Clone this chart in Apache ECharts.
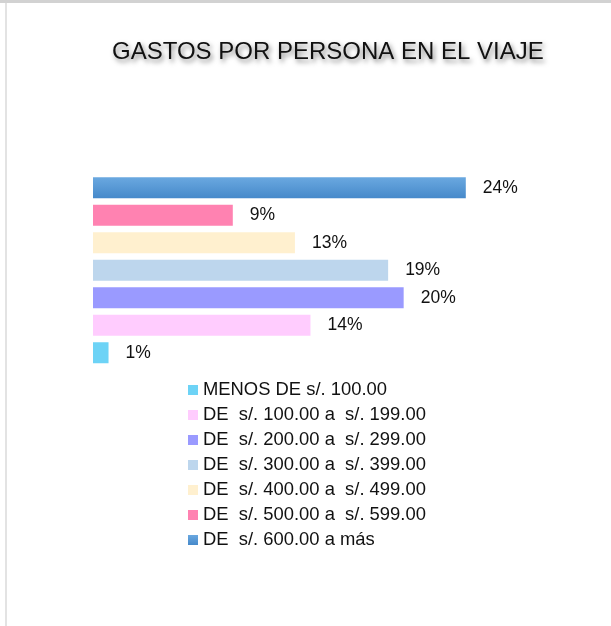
<!DOCTYPE html>
<html>
<head>
<meta charset="utf-8">
<script src="https://cdn.jsdelivr.net/npm/echarts@6/dist/echarts.min.js"></script>
<style>
	html, body { margin: 0; padding: 0; background: #fff; }
	#wrap { position: relative; width: 611px; height: 626px; overflow: hidden; }
	#topbar { position: absolute; left: 0; top: 0; width: 611px; height: 3px; background: #d2d2d2; }
	#leftline { position: absolute; left: 5px; top: 3px; width: 2px; height: 623px; background: #e3e3e3; }
	#main { position: absolute; left: 0; top: 0; width: 611px; height: 626px; }
</style>
</head>
<body>
<div id="wrap">
	<div id="main"></div>
	<div id="topbar"></div>
	<div id="leftline"></div>
</div>
<script>
//categorias (de abajo hacia arriba)
var categorias = [
	'MENOS DE s/. 100.00',
	'DE  s/. 100.00 a  s/. 199.00',
	'DE  s/. 200.00 a  s/. 299.00',
	'DE  s/. 300.00 a  s/. 399.00',
	'DE  s/. 400.00 a  s/. 499.00',
	'DE  s/. 500.00 a  s/. 599.00',
	'DE  s/. 600.00 a más'
];
var porcentajes = [1, 14, 20, 19, 13, 9, 24];
var colores = ['#6dd3f6', '#ffccfe', '#9a9aff', '#bdd6ed', '#fff0cf', '#ff82b1', '#5596d6'];

var fuente = 'Liberation Sans, Arial, sans-serif';

function init(){
	var chartDom = document.getElementById('main');
	var myChart = echarts.init(chartDom);

	var series = [];
	for(var i = 0; i < categorias.length; i++){
		var data = [];
		for(var j = 0; j < categorias.length; j++){
			data.push(j == i ? porcentajes[i] : '-');
		}
		var color = colores[i];
		if(i == categorias.length - 1){
			color = new echarts.graphic.LinearGradient(0, 0, 0, 1, [
				{offset: 0, color: '#6aa8e0'},
				{offset: 1, color: '#4689ca'}
			]);
		}
		series.push({
			name: categorias[i],
			type: 'bar',
			stack: 'total',
			barWidth: 21,
			itemStyle: {
				color: color
			},
			label: {
				show: true,
				position: 'right',
				distance: 17,
				formatter: '{c}%',
				fontFamily: fuente,
				fontSize: 17.5,
				color: '#111'
			},
			data: data
		});
	}

	var option = {
		animation: false,
		title: {
			text: 'GASTOS POR PERSONA EN EL VIAJE',
			left: 112,
			top: 40,
			padding: 0,
			textStyle: {
				fontFamily: fuente,
				fontSize: 24,
				fontWeight: 'normal',
				color: '#111',
				textShadowColor: 'rgba(0,0,0,0.5)',
				textShadowBlur: 5,
				textShadowOffsetX: 2,
				textShadowOffsetY: 3
			}
		},
		legend: {
			orient: 'vertical',
			left: 188,
			top: 381,
			padding: 0,
			icon: 'rect',
			itemWidth: 10,
			itemHeight: 10,
			itemGap: 7,
			textStyle: {
				fontFamily: fuente,
				fontSize: 18.4,
				lineHeight: 18,
				color: '#111',
				padding: [0, 0, 0, 0]
			},
			data: categorias
		},
		grid: {
			left: 93,
			top: 174,
			width: 466,
			height: 192.5,
			containLabel: false
		},
		xAxis: {
			type: 'value',
			min: 0,
			max: 30,
			show: false
		},
		yAxis: {
			type: 'category',
			data: categorias,
			show: false
		},
		series: series
	};

	myChart.setOption(option);
}

init();
</script>
</body>
</html>
